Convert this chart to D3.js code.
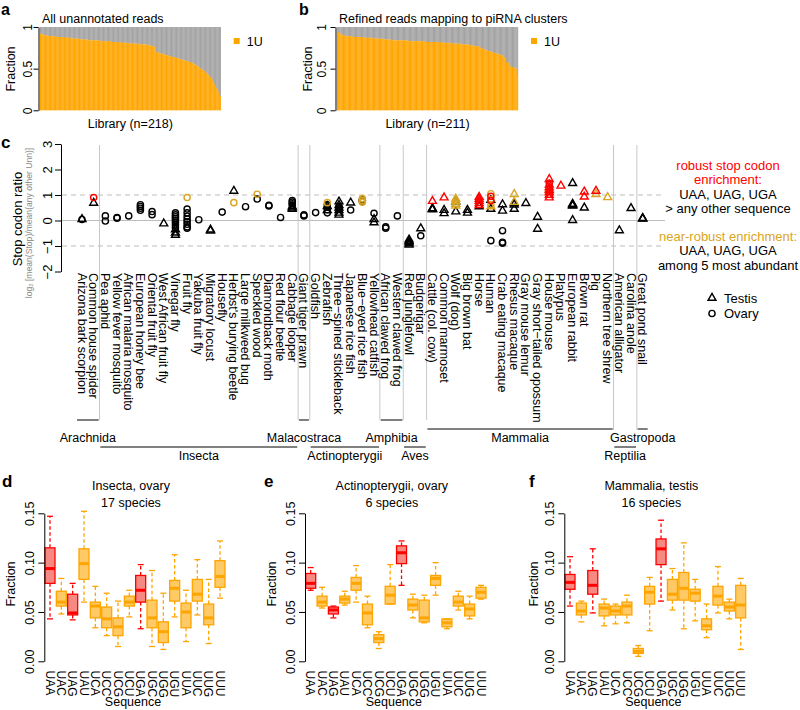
<!DOCTYPE html>
<html><head><meta charset="utf-8">
<script src="https://cdn.jsdelivr.net/npm/d3@7"></script>
<style>body{margin:0;background:#fff} svg{display:block} text{font-family:"Liberation Sans",Arial,Helvetica,sans-serif}</style>
</head><body><svg id="fig" width="800" height="710"></svg>
<script>
// ---------------- DATA ----------------
// Panel a: 1U fraction per library, all unannotated reads (n=218), sorted
const fracAll = [
0.92,0.91,0.91,0.91,0.90,0.90,0.90,0.90,0.90,0.90,0.89,0.89,0.89,0.89,0.89,0.89,0.89,0.89,0.89,0.88,0.88,0.88,0.88,0.88,0.88,0.88,0.88,0.88,0.88,0.88,0.87,0.87,
0.87,0.87,0.87,0.87,0.87,0.87,0.86,0.86,0.86,0.86,0.86,0.86,0.86,0.86,0.86,0.85,0.85,0.85,0.85,0.85,0.85,0.85,0.85,0.85,0.85,0.85,0.84,0.84,0.84,0.84,0.84,0.84,0.84,0.84,0.84,0.84,0.84,0.84,0.84,0.84,
0.83,0.83,0.83,0.83,0.83,0.83,0.83,0.83,0.83,0.83,0.83,0.83,0.83,0.82,0.82,0.82,0.82,0.82,0.82,0.82,0.82,0.82,0.82,0.82,0.82,
0.81,0.81,0.81,0.81,0.81,0.81,0.81,0.81,0.81,0.81,0.80,0.80,0.80,0.80,0.80,0.80,0.80,0.80,0.80,0.80,0.80,0.80,0.79,0.79,0.79,0.79,0.79,0.79,0.79,0.79,0.79,0.79,
0.79,0.78,0.78,0.78,0.78,0.77,0.77,0.77,0.77,0.76,
0.72,0.70,0.70,0.69,0.69,0.69,0.68,0.68,0.68,0.67,0.67,0.67,0.66,0.66,0.66,0.66,0.65,0.65,0.65,0.65,0.64,0.64,
0.64,0.64,0.63,0.63,0.63,0.62,0.62,0.62,0.61,0.61,0.61,0.61,0.60,0.60,0.60,0.59,0.59,
0.59,0.58,0.58,0.58,0.57,0.57,0.56,0.56,0.55,0.55,0.54,0.53,0.53,0.52,0.51,0.50,
0.50,0.49,0.48,0.48,0.47,0.46,0.45,0.44,
0.43,0.42,0.41,0.40,0.38,0.37,0.35,0.33,
0.31,0.29,0.27,0.25,0.24,0.22,0.20,0.17];
// Panel b: 1U fraction per library, refined reads mapping to piRNA clusters (n=211)
const fracClusters = [
0.96,0.94,0.93,0.92,0.91,0.91,0.90,
0.90,0.90,0.89,0.89,0.89,0.89,0.89,0.89,0.89,0.89,0.89,0.88,0.88,0.88,0.88,0.88,0.88,0.88,0.88,0.88,0.88,0.88,0.88,0.88,0.87,0.87,0.87,0.87,
0.87,0.87,0.87,0.87,0.87,0.87,0.87,0.87,0.86,0.86,0.86,0.86,0.86,0.86,0.86,0.86,0.86,0.86,0.85,0.85,0.85,0.85,0.85,0.85,0.85,0.85,0.85,0.85,0.84,0.84,0.84,0.84,0.84,0.84,0.84,0.84,0.84,0.84,
0.84,0.84,0.84,0.84,0.84,0.84,0.84,0.84,0.84,0.84,0.83,0.83,0.83,0.83,0.83,0.83,0.83,0.83,0.83,0.83,0.83,0.83,0.83,0.83,0.83,0.83,0.83,0.83,0.83,0.83,0.82,0.82,0.82,0.82,0.82,0.82,0.82,0.82,0.82,
0.82,0.82,0.82,0.82,0.82,0.82,0.82,0.82,0.82,0.82,0.81,0.81,0.81,0.81,0.81,0.81,0.81,0.81,0.81,0.81,0.81,0.81,0.80,0.80,0.80,0.80,0.80,0.80,0.80,0.80,0.80,0.80,0.79,0.79,0.79,0.79,0.79,0.79,0.79,
0.79,0.79,0.79,0.78,0.78,0.78,0.78,0.78,0.77,0.77,0.77,0.77,0.77,0.77,0.76,0.76,
0.75,0.74,0.74,0.73,0.73,0.73,0.72,
0.72,0.72,0.71,0.71,0.71,0.70,0.70,0.70,0.69,0.69,0.69,0.68,
0.68,0.68,0.67,0.67,0.67,0.66,0.66,0.65,0.64,0.63,
0.62,0.58,0.57,0.57,0.56,0.53,
0.53,0.52,0.52,0.51,0.51,0.51,0.50,0.50,0.41];

// Panel c
const species = ["Arizona bark scorpion","Common house spider","Pea aphid","Yellow fever mosquito","African malaria mosquito","European honey bee","Oriental fruit fly","West African fruit fly","Vinegar fly","Fruit fly","Yakuba fruit fly","Migratory locust","Housefly","Herbst's burying beetle","Large milkweed bug","Speckled wood","Diamondback moth","Red flour beetle","Cabbage looper","Giant tiger prawn","Goldfish","Zebrafish","Three\u2212spined stickleback","Japanese rice fish","Blue\u2212eyed rice fish","Yellowhead catfish","African clawed frog","Western clawed frog","Red junglefowl","Budgerigar","Cattle (col. cow)","Common marmoset","Wolf (dog)","Big brown bat","Horse","Human","Crab eating macaque","Rhesus macaque","Gray mouse lemur","Gray short\u2212tailed opossum","House mouse","Platypus","European rabbit","Brown rat","Pig","Northern tree shrew","American alligator","Carolina anole","Great pond snail"];
const taxa       = ["Arachnida","Insecta","Malacostraca","Actinopterygii","Amphibia","Aves","Mammalia","Reptilia","Gastropoda"];
const taxonFirst = [0, 2, 19, 20, 26, 28, 30, 46, 48];
const taxonLast  = [1, 18, 19, 25, 27, 29, 45, 47, 48];
const taxonTier  = [0, 2, 0, 2, 0, 2, 1, 2, 1];
const ratioTicks = [-2, -1, 0, 1, 2, 3];
// [species index, log2 ratio, tissue (T testis / O ovary), enrichment (k none / r robust / g near-robust)]
const stopRatio = [
[0,0.05,"T","k"],[0,0.04,"O","k"],
[1,0.69,"T","k"],[1,0.90,"O","r"],
[2,0.18,"O","k"],[2,-0.02,"O","k"],
[3,0.12,"O","k"],[3,0.09,"O","k"],
[4,0.18,"O","k"],
[5,0.62,"O","k"],[5,0.55,"O","k"],[5,0.48,"O","k"],[5,0.40,"O","k"],
[6,0.35,"O","k"],[6,0.23,"O","k"],
[7,-0.12,"T","k"],
[8,0.30,"O","k"],[8,0.22,"O","k"],[8,0.15,"O","k"],[8,0.08,"O","k"],[8,0.00,"O","k"],[8,-0.08,"O","k"],[8,-0.18,"O","k"],[8,-0.28,"O","k"],[8,-0.35,"T","k"],[8,-0.48,"T","k"],[8,-0.57,"T","k"],
[9,0.45,"O","k"],[9,0.30,"O","k"],[9,0.17,"O","k"],[9,0.05,"O","k"],[9,-0.05,"O","k"],[9,-0.15,"O","k"],[9,-0.25,"O","k"],[9,-0.30,"O","k"],[9,0.90,"O","g"],
[10,0.03,"O","k"],
[11,-0.36,"T","k"],[11,-0.40,"T","k"],
[12,0.33,"O","k"],
[13,1.16,"T","k"],[13,0.70,"O","g"],
[14,0.54,"O","k"],
[15,0.84,"O","k"],[15,1.03,"O","g"],
[16,0.60,"O","k"],[16,0.57,"O","k"],
[17,0.12,"O","k"],
[18,0.78,"O","k"],[18,0.72,"O","k"],[18,0.66,"O","k"],[18,0.60,"O","k"],[18,0.55,"T","k"],[18,0.50,"T","k"],[18,0.45,"T","k"],
[19,0.22,"O","k"],[19,0.18,"O","k"],
[20,0.31,"O","k"],
[21,0.62,"O","k"],[21,0.52,"O","k"],[21,0.42,"O","k"],[21,0.30,"O","k"],[21,0.56,"T","k"],[21,0.40,"T","k"],[21,0.70,"O","g"],
[22,0.74,"T","k"],[22,0.60,"T","k"],[22,0.50,"T","k"],[22,0.40,"T","k"],[22,0.30,"T","k"],[22,0.22,"T","k"],[22,0.55,"O","k"],[22,0.45,"O","k"],
[23,0.70,"T","k"],[23,0.41,"O","k"],
[24,0.80,"O","k"],[24,0.76,"O","k"],[24,0.86,"O","g"],[24,0.78,"O","g"],[24,0.72,"O","g"],
[25,0.28,"O","k"],[25,0.05,"T","k"],[25,-0.08,"T","k"],
[26,-0.25,"O","k"],[26,-0.30,"O","k"],
[27,0.18,"O","k"],
[28,-0.75,"T","k"],[28,-0.80,"T","k"],[28,-0.85,"T","k"],[28,-0.90,"T","k"],[28,-0.95,"T","k"],
[29,-0.31,"T","k"],[29,-0.60,"O","k"],
[30,0.47,"T","k"],[30,0.45,"T","k"],[30,0.43,"T","k"],[30,0.76,"T","r"],
[31,0.41,"T","k"],[31,0.28,"T","k"],[31,0.90,"T","r"],
[32,0.74,"T","k"],[32,0.35,"T","k"],[32,0.85,"T","g"],[32,0.75,"T","g"],[32,0.65,"T","g"],[32,0.58,"T","g"],
[33,0.41,"T","k"],[33,0.30,"T","k"],
[34,0.55,"T","k"],[34,0.92,"T","r"],[34,0.84,"T","r"],[34,0.76,"T","r"],[34,0.68,"T","r"],[34,0.60,"T","r"],
[35,0.80,"T","k"],[35,0.45,"T","k"],[35,-0.79,"O","k"],[35,1.05,"O","g"],[35,0.80,"O","g"],[35,0.62,"O","g"],[35,0.55,"T","g"],[35,0.95,"O","r"],[35,0.78,"O","r"],
[36,0.63,"T","k"],[36,0.38,"T","k"],[36,-0.40,"O","k"],[36,-0.85,"O","k"],[36,-0.89,"O","k"],
[37,0.68,"T","k"],[37,0.62,"T","k"],[37,0.45,"T","k"],[37,1.03,"T","g"],[37,0.72,"T","g"],
[38,0.68,"T","k"],
[39,0.14,"T","k"],[39,-0.33,"T","k"],
[40,1.25,"T","g"],[40,1.15,"T","g"],[40,1.62,"T","r"],[40,1.40,"T","r"],[40,1.30,"T","r"],[40,1.20,"T","r"],[40,1.10,"T","r"],[40,1.00,"T","r"],[40,0.90,"T","r"],[40,1.46,"O","r"],
[41,1.36,"T","r"],
[42,1.46,"T","k"],[42,0.65,"T","k"],[42,0.62,"T","k"],[42,0.60,"T","k"],[42,0.58,"T","k"],[42,0.01,"T","k"],
[43,0.50,"T","k"],[43,1.13,"T","r"],[43,0.93,"T","r"],
[44,1.03,"T","g"],[44,1.16,"T","r"],
[45,0.91,"T","g"],
[46,-0.39,"T","k"],
[47,0.48,"T","k"],
[48,0.09,"T","k"],[48,0.08,"T","k"],[48,0.07,"T","k"]
];

// Panels d-f: boxplot stats per sequence [low whisker, Q1, median, Q3, high whisker]
const seqs = ["UAA","UAC","UAG","UAU","UCA","UCC","UCG","UCU","UGA","UGC","UGG","UGU","UUA","UUC","UUG","UUU"];
const stopSeqs = ["UAA","UAG","UGA"];
const fracTicks = [0, 0.05, 0.10, 0.15];
const boxInsectaOvary = [
[0.043,0.079,0.094,0.115,0.147],[0.048,0.056,0.060,0.071,0.084],[0.042,0.047,0.049,0.068,0.079],[0.060,0.083,0.099,0.114,0.152],
[0.034,0.044,0.056,0.060,0.076],[0.026,0.034,0.043,0.055,0.069],[0.015,0.026,0.035,0.044,0.061],[0.045,0.056,0.060,0.066,0.072],
[0.033,0.060,0.072,0.087,0.098],[0.015,0.034,0.044,0.062,0.092],[0.012,0.019,0.030,0.040,0.069],[0.045,0.061,0.074,0.082,0.108],
[0.020,0.034,0.050,0.059,0.072],[0.047,0.061,0.068,0.083,0.103],[0.018,0.037,0.044,0.058,0.083],[0.064,0.075,0.086,0.102,0.122]];
const boxActinoOvary = [
[0.072,0.074,0.079,0.089,0.095],[0.054,0.056,0.060,0.066,0.075],[0.044,0.048,0.052,0.055,0.056],[0.057,0.059,0.063,0.066,0.071],
[0.060,0.072,0.079,0.085,0.097],[0.034,0.037,0.049,0.058,0.066],[0.013,0.019,0.023,0.027,0.030],[0.058,0.058,0.067,0.076,0.098],
[0.077,0.099,0.110,0.117,0.122],[0.044,0.052,0.057,0.063,0.068],[0.039,0.040,0.044,0.062,0.067],[0.067,0.077,0.084,0.087,0.100],
[0.033,0.035,0.039,0.043,0.043],[0.052,0.056,0.060,0.066,0.071],[0.043,0.046,0.053,0.058,0.066],[0.063,0.064,0.070,0.075,0.077]];
const boxMammaliaTestis = [
[0.056,0.073,0.080,0.088,0.106],[0.040,0.047,0.051,0.059,0.061],[0.049,0.068,0.077,0.092,0.114],[0.036,0.046,0.054,0.058,0.063],
[0.038,0.047,0.051,0.056,0.058],[0.039,0.047,0.056,0.060,0.067],[0.005,0.008,0.010,0.013,0.016],[0.031,0.058,0.070,0.076,0.085],
[0.061,0.098,0.114,0.124,0.143],[0.052,0.062,0.068,0.083,0.094],[0.033,0.062,0.074,0.090,0.120],[0.041,0.061,0.069,0.073,0.083],
[0.024,0.032,0.036,0.043,0.058],[0.049,0.057,0.066,0.076,0.096],[0.043,0.051,0.055,0.060,0.063],[0.012,0.044,0.057,0.077,0.084]];

// ---------------- DRAWING ----------------
const svg = d3.select("#fig");
const FS = 12.5;
const RED = "#FF0000", GOLD = "#DAA520", ORANGE = "#FFA500";

function label(x, y, s, o = {}) {
  return svg.append("text").attr("x", x).attr("y", y).text(s)
    .attr("font-size", o.size || FS).attr("text-anchor", o.anchor || "start")
    .attr("fill", o.fill || "#000").attr("font-weight", o.weight || null);
}
function vlabel(cx, cy, s, o = {}) {
  const size = o.size || FS;
  return svg.append("text").attr("transform", `translate(${cx + size * 0.36},${cy}) rotate(-90)`)
    .attr("text-anchor", "middle").attr("font-size", size).attr("fill", o.fill || "#000").text(s);
}
function styleAxis(g, labelOffset, size) {
  g.attr("font-family", null).attr("font-size", size || FS);
  g.select(".domain").attr("stroke", "#000");
  g.selectAll(".tick line").attr("stroke", "#000");
  g.selectAll(".tick text").attr("x", null).attr("dy", null).attr("fill", "#000")
    .attr("text-anchor", "middle").attr("transform", `translate(${-labelOffset},0) rotate(-90)`);
}

// ---- panels a & b ----
function fractionPanel(vals, x0, x1, axisX, lblOff, title, xlab, letter, letterX) {
  const xs = d3.scaleBand().domain(d3.range(vals.length)).range([x0, x1]);
  const ys = d3.scaleLinear().domain([0, 1]).range([110.3, 27]);
  const g = svg.append("g");
  g.selectAll("rect.rest").data(vals).join("rect").attr("class", "rest")
    .attr("x", (d, i) => xs(i)).attr("width", xs.bandwidth() + 0.2)
    .attr("y", ys(1)).attr("height", d => ys(d) - ys(1)).attr("fill", "#a3a3a3");
  g.selectAll("rect.u").data(vals).join("rect").attr("class", "u")
    .attr("x", (d, i) => xs(i)).attr("width", xs.bandwidth() + 0.2)
    .attr("y", d => ys(d)).attr("height", d => ys(0) - ys(d)).attr("fill", ORANGE);
  const ax = svg.append("g").attr("transform", `translate(${axisX},0)`)
    .call(d3.axisLeft(ys).tickValues([0, 0.5, 1]).tickFormat(d3.format("~g")).tickSize(5).tickSizeOuter(0));
  styleAxis(ax, lblOff, 12);
  label(x0 + 2, 23, title);
  label((x0 + x1) / 2, 128, xlab, { anchor: "middle" });
  vlabel(x0 - 30, 69, "Fraction");
  svg.append("rect").attr("x", x1 + 13).attr("y", 38).attr("width", 6).attr("height", 6).attr("fill", ORANGE);
  label(x1 + 26, 45.5, "1U");
  label(letterX, 15, letter, { size: 16, weight: "bold" });
}
fractionPanel(fracAll, 40, 220.7, 38.5, 7, "All unannotated reads", "Library (n=218)", "a", 1);
fractionPanel(fracClusters, 337, 518, 335.5, 10, "Refined reads mapping to piRNA clusters", "Library (n=211)", "b", 299);

// ---- panel c ----
const xc = d3.scaleLinear().domain([0, species.length - 1]).range([82, 642.7]);
const yc = d3.scaleLinear().domain([-2, 3]).range([271.5, 144]);
const cLeft = 62, cRight = 665;
for (let i = 0; i < taxa.length - 1; i++) {
  const sx = xc((taxonLast[i] + taxonFirst[i + 1]) / 2);
  const bottom = (i >= 6) ? 430 : 420;
  svg.append("line").attr("x1", sx).attr("x2", sx).attr("y1", 145).attr("y2", bottom)
    .attr("stroke", "#c8c8c8").attr("stroke-width", 1);
}
svg.append("line").attr("x1", cLeft).attr("x2", cRight).attr("y1", yc(0)).attr("y2", yc(0)).attr("stroke", "#bdbdbd");
[1, -1].forEach(v => svg.append("line").attr("x1", cLeft).attr("x2", cRight).attr("y1", yc(v)).attr("y2", yc(v))
  .attr("stroke", "#bdbdbd").attr("stroke-dasharray", "5,4"));
const axc = svg.append("g").attr("transform", "translate(61,0)")
  .call(d3.axisLeft(yc).tickValues(ratioTicks).tickFormat(d3.format("d")).tickSize(6).tickSizeOuter(0));
styleAxis(axc, 9.5, 13);
vlabel(17, 219, "Stop codon ratio", { size: 13 });
vlabel(29, 223, "log\u2082 [mean(Stop)/mean(any other Unn)]", { size: 8.6, fill: "#8a8a8a" });
label(1, 148, "c", { size: 17, weight: "bold" });

const colorOf = { k: "#000", r: RED, g: GOLD };
const symT = d3.symbol().type(d3.symbolTriangle).size(27);
const symO = d3.symbol().type(d3.symbolCircle).size(30);
const order = { k: 0, g: 1, r: 2 };
const pts = stopRatio.slice().sort((a, b) => order[a[3]] - order[b[3]]);
svg.append("g").selectAll("path").data(pts).join("path")
  .attr("transform", d => `translate(${xc(d[0])},${yc(d[1])})`)
  .attr("d", d => d[2] === "T" ? symT() : symO())
  .attr("fill", "none").attr("stroke", d => colorOf[d[3]]).attr("stroke-width", 1.4);

svg.append("g").selectAll("text").data(species).join("text")
  .attr("transform", (d, i) => `translate(${xc(i) - FS * 0.36},273) rotate(90)`)
  .attr("font-size", FS).text(d => d);

const tierLine = [420, 429, 447], tierText = [441.5, 441.5, 460];
taxa.forEach((t, i) => {
  const a = xc(taxonFirst[i]) - 5, b = xc(taxonLast[i]) + 5;
  svg.append("line").attr("x1", a).attr("x2", b).attr("y1", tierLine[taxonTier[i]]).attr("y2", tierLine[taxonTier[i]])
    .attr("stroke", "#000").attr("stroke-width", 1);
  label((xc(taxonFirst[i]) + xc(taxonLast[i])) / 2, tierText[taxonTier[i]], t, { anchor: "middle" });
});

const lx = 728;
label(lx, 169.5, "robust stop codon", { anchor: "middle", fill: RED, size: 13 });
label(lx, 184, "enrichment:", { anchor: "middle", fill: RED, size: 13 });
label(lx, 198.5, "UAA, UAG, UGA", { anchor: "middle", size: 13 });
label(lx, 213, "> any other sequence", { anchor: "middle", size: 13 });
label(lx, 240.5, "near-robust enrichment:", { anchor: "middle", fill: GOLD, size: 13 });
label(lx, 255, "UAA, UAG, UGA", { anchor: "middle", size: 13 });
label(lx, 270, "among 5 most abundant", { anchor: "middle", size: 13 });
svg.append("path").attr("transform", "translate(712,298)").attr("d", symT()).attr("fill", "none").attr("stroke", "#000").attr("stroke-width", 1.4);
svg.append("path").attr("transform", "translate(712,313.5)").attr("d", symO()).attr("fill", "none").attr("stroke", "#000").attr("stroke-width", 1.4);
label(724, 302.5, "Testis", { size: 13 });
label(724, 318, "Ovary", { size: 13 });

// ---- panels d, e, f ----
function boxPanel(stats, x0, x1, axisX, t1, t2, letter, letterX, fracX) {
  const xs = d3.scalePoint().domain(seqs).range([x0, x1]);
  const ys = d3.scaleLinear().domain([0, 0.15]).range([661.3, 513.3]);
  const bw = 10, cw = 3;
  const data = seqs.map((s, i) => ({ s, lo: stats[i][0], q1: stats[i][1], med: stats[i][2], q3: stats[i][3], hi: stats[i][4], stop: stopSeqs.includes(s) }));
  const g = svg.append("g");
  const items = g.selectAll("g").data(data).join("g");
  const col = d => d.stop ? RED : ORANGE;
  items.append("line").attr("x1", d => xs(d.s)).attr("x2", d => xs(d.s)).attr("y1", d => ys(d.q3)).attr("y2", d => ys(d.hi))
    .attr("stroke", col).attr("stroke-width", 1.3).attr("stroke-dasharray", "3.5,2.5");
  items.append("line").attr("x1", d => xs(d.s)).attr("x2", d => xs(d.s)).attr("y1", d => ys(d.q1)).attr("y2", d => ys(d.lo))
    .attr("stroke", col).attr("stroke-width", 1.3).attr("stroke-dasharray", "3.5,2.5");
  ["hi", "lo"].forEach(k => items.append("line").attr("x1", d => xs(d.s) - cw).attr("x2", d => xs(d.s) + cw)
    .attr("y1", d => ys(d[k])).attr("y2", d => ys(d[k])).attr("stroke", col).attr("stroke-width", 1.3));
  items.append("rect").attr("x", d => xs(d.s) - bw / 2).attr("width", bw)
    .attr("y", d => ys(d.q3)).attr("height", d => ys(d.q1) - ys(d.q3))
    .attr("fill", d => d.stop ? "rgba(240,40,30,0.55)" : "rgba(255,165,0,0.6)")
    .attr("stroke", col).attr("stroke-width", 1.3);
  items.append("line").attr("x1", d => xs(d.s) - bw / 2).attr("x2", d => xs(d.s) + bw / 2)
    .attr("y1", d => ys(d.med)).attr("y2", d => ys(d.med)).attr("stroke", col).attr("stroke-width", 3);
  const ax = svg.append("g").attr("transform", `translate(${axisX},0)`)
    .call(d3.axisLeft(ys).tickValues(fracTicks).tickFormat(d3.format(".2f")).tickSize(6).tickSizeOuter(0));
  styleAxis(ax, 10.5, 12.5);
  g.selectAll("text").data(seqs).join("text")
    .attr("transform", d => `translate(${xs(d) - 12 * 0.36},670.5) rotate(90)`)
    .attr("font-size", 12).text(d => d);
  const mid = (x0 + x1) / 2;
  label(mid - 4, 490, t1, { anchor: "middle" });
  label(mid - 4, 507, t2, { anchor: "middle" });
  label(mid - 2, 706, "Sequence", { anchor: "middle" });
  vlabel(fracX, 584, "Fraction");
  label(letterX, 487, letter, { size: 17, weight: "bold" });
}
boxPanel(boxInsectaOvary, 50, 220, 44.3, "Insecta, ovary", "17 species", "d", 2, 10);
boxPanel(boxActinoOvary, 310.7, 481, 305, "Actinopterygii, ovary", "6 species", "e", 264, 271);
boxPanel(boxMammaliaTestis, 570, 740.7, 564.3, "Mammalia, testis", "16 species", "f", 529, 533);
</script></body></html>
